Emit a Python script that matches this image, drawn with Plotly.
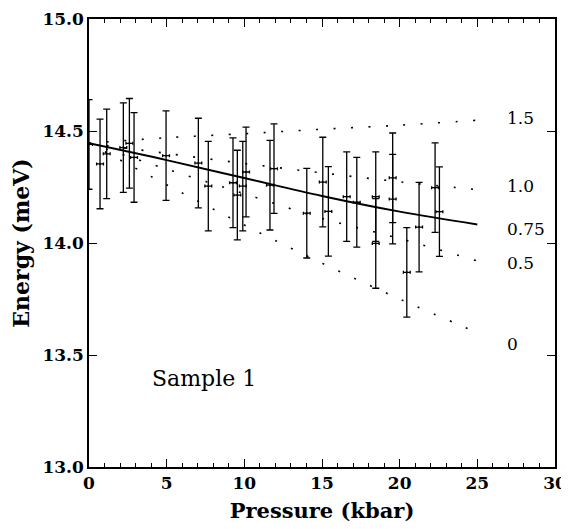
import plotly.graph_objects as go

# ---- data ----
pressure = [0.0, 0.71, 1.14, 2.21, 2.60, 2.90, 4.96, 7.04, 7.68, 9.27, 9.55, 9.90,
            10.11, 11.65, 11.91, 14.02, 15.05, 15.41, 16.59, 17.24, 18.46, 18.46,
            19.55, 19.55, 20.46, 21.25, 22.28, 22.56]
energy = [14.44, 14.353, 14.398, 14.426, 14.445, 14.382, 14.39, 14.357, 14.254, 14.269,
          14.214, 14.254, 14.317, 14.258, 14.332, 14.133, 14.272, 14.141, 14.207, 14.182,
          14.207, 13.998, 14.291, 14.196, 13.869, 14.071, 14.247, 14.14]
energy_err = [0.2] * len(pressure)
pressure_err = [0.22] * len(pressure)

curve_p = [0, 5, 10, 15, 20, 25]
fit_075 = [14.445, 14.37, 14.29, 14.21, 14.14, 14.083]
curve_15 = [14.445, 14.47, 14.488, 14.508, 14.526, 14.548]
curve_10 = [14.445, 14.40, 14.355, 14.313, 14.273, 14.238]
curve_05 = [14.445, 14.33, 14.22, 14.11, 14.02, 13.92]
curve_0 = [14.445, 14.26, 14.08, 13.91, 13.75, 13.60]

curve_labels = ["1.5", "1.0", "0.75", "0.5", "0"]
label_y = [14.556, 14.253, 14.064, 13.91, 13.549]

x_ticks = [0, 5, 10, 15, 20, 25, 30]
y_ticks = [13.0, 13.5, 14.0, 14.5, 15.0]

SERIF = "DejaVu Serif"

fig = go.Figure()

for ys in [curve_15, curve_10, curve_05, curve_0]:
    fig.add_trace(go.Scatter(x=curve_p, y=ys, mode="lines", line_shape="spline",
                             line=dict(color="black", width=1.6, dash="2px,15.5px"),
                             showlegend=False, hoverinfo="skip"))

fig.add_trace(go.Scatter(x=curve_p, y=fit_075, mode="lines", line_shape="spline",
                         line=dict(color="black", width=2), showlegend=False))

fig.add_trace(go.Scatter(
    x=pressure, y=energy, mode="markers",
    marker=dict(size=2, color="black"),
    error_y=dict(type="data", array=energy_err, color="black", thickness=1.3, width=3.5),
    error_x=dict(type="data", array=pressure_err, color="black", thickness=1.3, width=1.5),
    showlegend=False))

for t, y in zip(curve_labels, label_y):
    fig.add_annotation(x=26.8, y=y, text=t, showarrow=False, xanchor="left",
                       yanchor="middle", font=dict(family=SERIF, size=17, color="black"))

fig.add_annotation(x=3.95, y=13.396, text="Sample 1", showarrow=False, xanchor="left",
                   yanchor="middle", font=dict(family=SERIF, size=22, color="black"))

# the page body has an 8px margin, so the figure is shrunk and margins shifted by 8px
fig.update_layout(
    width=561, height=521,
    margin=dict(l=81, r=14, t=11, b=62),
    paper_bgcolor="white", plot_bgcolor="white",
    font=dict(family=SERIF, color="black"),
    xaxis=dict(range=[0, 30], tickvals=x_ticks, ticks="inside", ticklen=8, tickwidth=1.3,
               tickcolor="black", showline=True, linecolor="black", linewidth=1.5,
               mirror="allticks", showgrid=False, zeroline=False, automargin=False,
               ticklabeloverflow="allow",
               tickfont=dict(family=SERIF, size=17, weight="bold"),
               minor=dict(dtick=1, ticks="inside", ticklen=4, tickwidth=1.1, tickcolor="black",
                          showgrid=False),
               title=dict(text="Pressure (kbar)", standoff=11,
                          font=dict(family=SERIF, size=21, weight="bold"))),
    yaxis=dict(range=[13.0, 15.0], tickvals=y_ticks, ticktext=[f"{v:.1f}" for v in y_ticks],
               ticks="inside", ticklen=8, tickwidth=1.3,
               tickcolor="black", showline=True, linecolor="black", linewidth=1.5,
               mirror="allticks", showgrid=False, zeroline=False, automargin=False,
               ticklabeloverflow="allow",
               tickfont=dict(family=SERIF, size=17, weight="bold"),
               title=dict(text="Energy (meV)", standoff=10,
                          font=dict(family=SERIF, size=22, weight="bold"))),
)

fig.write_html("out.html")
